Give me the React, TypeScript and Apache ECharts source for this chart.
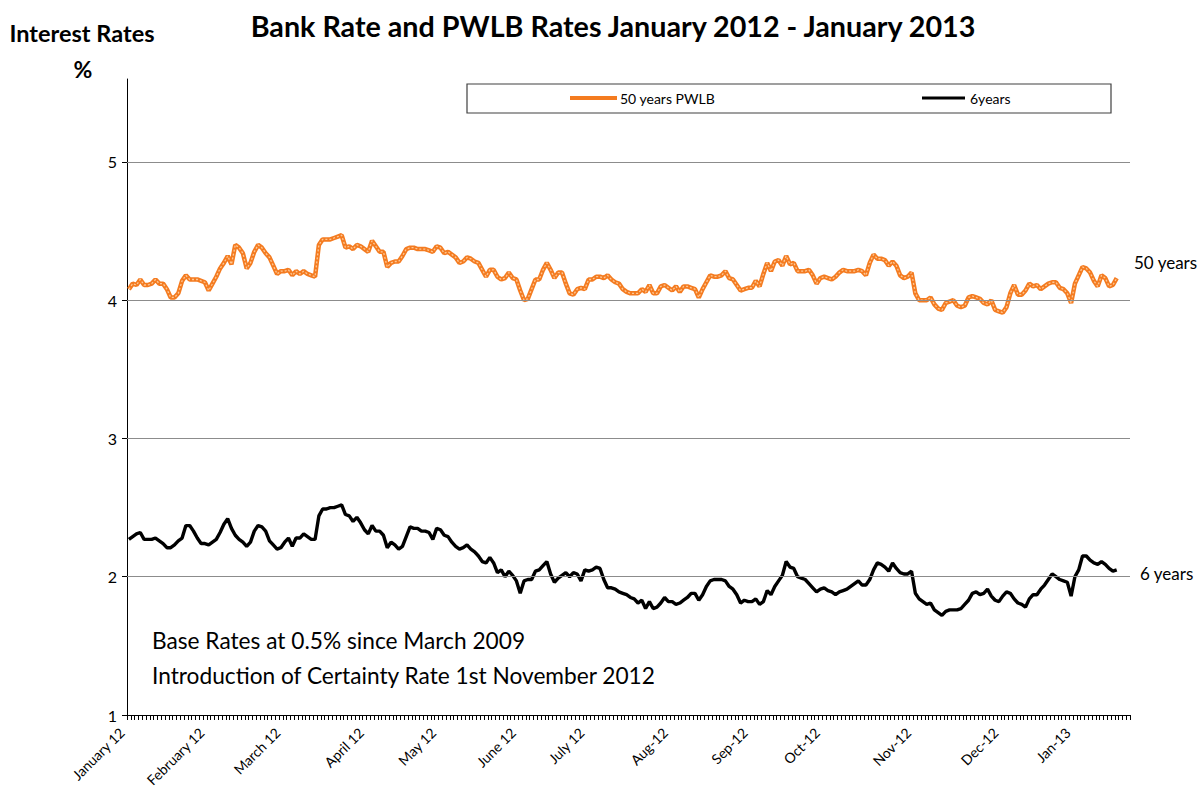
import React, { useEffect, useRef } from "react";
import * as echarts from "echarts";

// 50-year PWLB rate, daily (working days), Jan 2012 - Jan 2013
const rate50: number[] = [
  4.08, 4.12, 4.11, 4.15, 4.11, 4.11, 4.12, 4.15, 4.12, 4.12,
  4.08, 4.02, 4.02, 4.05, 4.14, 4.18, 4.15, 4.15, 4.15, 4.14,
  4.13, 4.07, 4.12, 4.17, 4.23, 4.27, 4.32, 4.26, 4.40, 4.38,
  4.34, 4.23, 4.27, 4.35, 4.40, 4.38, 4.34, 4.31, 4.25, 4.19,
  4.21, 4.21, 4.22, 4.18, 4.21, 4.19, 4.21, 4.19, 4.18, 4.17,
  4.40, 4.44, 4.44, 4.44, 4.45, 4.46, 4.47, 4.38, 4.39, 4.37,
  4.40, 4.39, 4.37, 4.35, 4.43, 4.39, 4.35, 4.35, 4.24, 4.27,
  4.28, 4.28, 4.32, 4.37, 4.38, 4.38, 4.37, 4.37, 4.37, 4.36,
  4.35, 4.39, 4.38, 4.34, 4.35, 4.33, 4.31, 4.27, 4.28, 4.31,
  4.30, 4.28, 4.27, 4.22, 4.17, 4.22, 4.22, 4.17, 4.15, 4.16,
  4.20, 4.16, 4.15, 4.07, 4.00, 4.01, 4.08, 4.15, 4.15, 4.22,
  4.27, 4.22, 4.16, 4.20, 4.20, 4.12, 4.05, 4.04, 4.08, 4.09,
  4.08, 4.15, 4.15, 4.17, 4.17, 4.16, 4.18, 4.15, 4.13, 4.12,
  4.08, 4.06, 4.05, 4.05, 4.05, 4.08, 4.06, 4.11, 4.05, 4.05,
  4.10, 4.11, 4.09, 4.07, 4.10, 4.06, 4.10, 4.10, 4.09, 4.08,
  4.02, 4.08, 4.13, 4.18, 4.17, 4.17, 4.18, 4.21, 4.16, 4.15,
  4.11, 4.07, 4.08, 4.09, 4.09, 4.14, 4.10, 4.19, 4.27, 4.21,
  4.28, 4.29, 4.25, 4.32, 4.26, 4.27, 4.21, 4.21, 4.21, 4.22,
  4.18, 4.12, 4.16, 4.17, 4.16, 4.15, 4.17, 4.20, 4.22, 4.21,
  4.21, 4.21, 4.22, 4.21, 4.18, 4.27, 4.33, 4.30, 4.30, 4.29,
  4.25, 4.28, 4.25, 4.18, 4.16, 4.17, 4.20, 4.05, 4.00, 4.00,
  4.00, 4.02, 3.97, 3.94, 3.93, 3.98, 3.99, 4.00, 3.96, 3.95,
  3.96, 4.02, 4.03, 4.02, 4.01, 3.98, 3.97, 4.00, 3.93, 3.92,
  3.91, 3.95, 4.05, 4.11, 4.04, 4.04, 4.07, 4.12, 4.10, 4.11,
  4.08, 4.10, 4.12, 4.13, 4.13, 4.09, 4.08, 4.05, 3.98, 4.12,
  4.18, 4.24, 4.23, 4.20, 4.14, 4.10, 4.18, 4.16, 4.10, 4.11, 4.16,
];

// 6-year rate
const rate6: number[] = [
  2.27, 2.29, 2.31, 2.32, 2.27, 2.27, 2.27, 2.28, 2.26, 2.24,
  2.21, 2.21, 2.23, 2.26, 2.28, 2.37, 2.37, 2.33, 2.28, 2.24,
  2.24, 2.23, 2.25, 2.27, 2.32, 2.38, 2.42, 2.35, 2.30, 2.27,
  2.25, 2.22, 2.25, 2.33, 2.37, 2.36, 2.33, 2.26, 2.23, 2.20,
  2.21, 2.25, 2.28, 2.22, 2.28, 2.28, 2.31, 2.29, 2.27, 2.27,
  2.44, 2.49, 2.49, 2.50, 2.50, 2.51, 2.52, 2.45, 2.44, 2.40,
  2.43, 2.39, 2.34, 2.31, 2.37, 2.33, 2.33, 2.30, 2.21, 2.25,
  2.23, 2.20, 2.22, 2.29, 2.36, 2.35, 2.35, 2.33, 2.33, 2.32,
  2.27, 2.35, 2.34, 2.30, 2.29, 2.25, 2.22, 2.20, 2.21, 2.23,
  2.20, 2.18, 2.15, 2.11, 2.10, 2.14, 2.10, 2.03, 2.05, 2.00,
  2.04, 2.01, 1.97, 1.88, 1.97, 1.98, 1.98, 2.04, 2.05, 2.08,
  2.11, 2.02, 1.96, 1.99, 2.01, 2.03, 2.00, 2.03, 2.02, 1.97,
  2.05, 2.04, 2.05, 2.07, 2.06, 1.98, 1.92, 1.92, 1.91, 1.89,
  1.88, 1.87, 1.85, 1.84, 1.81, 1.83, 1.77, 1.82, 1.77, 1.78,
  1.81, 1.85, 1.82, 1.82, 1.80, 1.81, 1.83, 1.85, 1.88, 1.88,
  1.83, 1.87, 1.93, 1.97, 1.98, 1.98, 1.98, 1.97, 1.93, 1.91,
  1.87, 1.81, 1.83, 1.82, 1.82, 1.84, 1.80, 1.82, 1.90, 1.87,
  1.93, 1.97, 2.01, 2.11, 2.07, 2.06, 2.00, 1.99, 1.98, 1.95,
  1.92, 1.89, 1.91, 1.92, 1.90, 1.89, 1.87, 1.89, 1.90, 1.91,
  1.93, 1.95, 1.97, 1.94, 1.94, 1.98, 2.05, 2.10, 2.09, 2.07,
  2.04, 2.10, 2.06, 2.03, 2.02, 2.02, 2.04, 1.88, 1.84, 1.82,
  1.80, 1.81, 1.76, 1.74, 1.72, 1.75, 1.76, 1.76, 1.76, 1.77,
  1.80, 1.83, 1.88, 1.89, 1.87, 1.88, 1.91, 1.86, 1.83, 1.82,
  1.86, 1.89, 1.88, 1.84, 1.81, 1.80, 1.78, 1.84, 1.87, 1.87,
  1.91, 1.94, 1.98, 2.02, 2.00, 1.98, 1.97, 1.96, 1.86, 2.00,
  2.05, 2.15, 2.15, 2.12, 2.10, 2.09, 2.11, 2.09, 2.06, 2.04, 2.05,
];

// number of day slots on the category axis (a few trailing slots carry no data)
const dayCount = 264;

// month tick labels and the day slot each one sits on
const monthLabels: string[] = [
  "January 12", "February 12", "March 12", "April 12", "May 12", "June 12",
  "July 12", "Aug-12", "Sep-12", "Oct-12", "Nov-12", "Dec-12", "Jan-13",
];
const monthDayIndex: number[] = [0, 21, 41, 63, 82, 103, 121, 143, 164, 183, 207, 230, 249];

// value axis
const yTicks: number[] = [1, 2, 3, 4, 5];
const gridValues: number[] = [2, 3, 4, 5];

const FONT = "Lato";

export default function App() {
  const ref = useRef<HTMLDivElement>(null);

  useEffect(() => {
    document.body.style.margin = "0";
    if (!ref.current) return;
    const chart = echarts.init(ref.current, null, { renderer: "svg" });

    const categories = Array.from({ length: dayCount }, (_, i) => "d" + i);
    const labelByIndex: Record<number, string> = {};
    monthDayIndex.forEach((d, k) => (labelByIndex[d] = monthLabels[k]));

    const orange = "#F47B20";

    chart.setOption({
      animation: false,
      backgroundColor: "#ffffff",
      textStyle: { fontFamily: FONT },
      grid: { left: 127, right: 69, top: 79, bottom: 77, containLabel: false, outerBoundsMode: "none" },
      legend: [
        {
          data: ["50 years PWLB"],
          left: 570,
          top: 91,
          padding: 0,
          icon: "rect",
          itemWidth: 47,
          itemHeight: 4,
          textStyle: { fontFamily: FONT, fontSize: 14, color: "#000", padding: [0, 0, 0, -2] },
        },
        {
          data: ["6years"],
          left: 922,
          top: 91,
          padding: 0,
          icon: "rect",
          itemWidth: 43,
          itemHeight: 3,
          textStyle: { fontFamily: FONT, fontSize: 14, color: "#000" },
        },
      ],
      xAxis: {
        type: "category",
        data: categories,
        boundaryGap: true,
        axisLine: { lineStyle: { color: "#000", width: 1 } },
        axisTick: { show: true, interval: 0, length: 5, lineStyle: { color: "#000", width: 1 } },
        axisLabel: {
          interval: 0,
          rotate: 45,
          margin: 8,
          padding: [0, 10, 0, 0],
          fontFamily: FONT,
          fontSize: 14,
          color: "#000",
          formatter: (_v: string, idx: number) => labelByIndex[idx] ?? "",
        },
        splitLine: { show: false },
      },
      yAxis: {
        type: "value",
        min: 1,
        max: 5.6,
        axisLine: { show: true, lineStyle: { color: "#000", width: 1 } },
        axisTick: { show: true, length: 5, customValues: yTicks, lineStyle: { color: "#000" } },
        axisLabel: { customValues: yTicks, fontFamily: FONT, fontSize: 16, color: "#000", margin: 10 },
        splitLine: { show: false },
      },
      graphic: [
        {
          type: "rect",
          z: 0,
          shape: { x: 467, y: 84, width: 644, height: 29 },
          style: { fill: "#fff", stroke: "#404040", lineWidth: 1.2 },
        },
        {
          type: "text",
          x: 613,
          y: 26,
          style: {
            text: "Bank Rate and PWLB Rates January 2012 - January 2013",
            font: `bold 28.7px ${FONT}`,
            fill: "#000",
            textAlign: "center",
            textVerticalAlign: "middle",
          },
        },
        {
          type: "text",
          x: 82,
          y: 33,
          style: {
            text: "Interest Rates",
            font: `bold 23.5px ${FONT}`,
            fill: "#000",
            textAlign: "center",
            textVerticalAlign: "middle",
          },
        },
        {
          type: "text",
          x: 83,
          y: 69,
          style: {
            text: "%",
            font: `bold 23px ${FONT}`,
            fill: "#000",
            textAlign: "center",
            textVerticalAlign: "middle",
          },
        },
        {
          type: "text",
          x: 1134,
          y: 262,
          style: { text: "50 years", font: `17px ${FONT}`, fill: "#000", textVerticalAlign: "middle" },
        },
        {
          type: "text",
          x: 1140,
          y: 573,
          style: { text: "6 years", font: `17px ${FONT}`, fill: "#000", textVerticalAlign: "middle" },
        },
        {
          type: "text",
          x: 152,
          y: 640,
          style: {
            text: "Base Rates at 0.5% since March 2009",
            font: `22.7px ${FONT}`,
            fill: "#000",
            textVerticalAlign: "middle",
          },
        },
        {
          type: "text",
          x: 152,
          y: 675,
          style: {
            text: "Introduction of Certainty Rate 1st November 2012",
            font: `22.7px ${FONT}`,
            fill: "#000",
            textVerticalAlign: "middle",
          },
        },
      ],
      series: [
        {
          name: "gridlines",
          type: "line",
          data: [],
          z: 1,
          silent: true,
          markLine: {
            silent: true,
            symbol: "none",
            label: { show: false },
            lineStyle: { color: "#8c8c8c", type: "solid", width: 1 },
            data: gridValues.map((v) => ({ yAxis: v })),
          },
        },
        {
          name: "50 years PWLB",
          type: "line",
          data: rate50,
          z: 3,
          showSymbol: false,
          color: orange,
          lineStyle: { color: orange, width: 4.5 },
        },
        {
          name: "50 years PWLB texture",
          type: "line",
          data: rate50,
          z: 4,
          showSymbol: false,
          silent: true,
          lineStyle: { color: "rgba(255,214,170,0.85)", width: 1.3, type: [2, 2] },
        },
        {
          name: "6years",
          type: "line",
          data: rate6,
          z: 3,
          showSymbol: false,
          color: "#000",
          lineStyle: { color: "#000", width: 3.4 },
        },
      ],
    });

    return () => chart.dispose();
  }, []);

  return <div ref={ref} style={{ width: 1199, height: 792 }} />;
}
